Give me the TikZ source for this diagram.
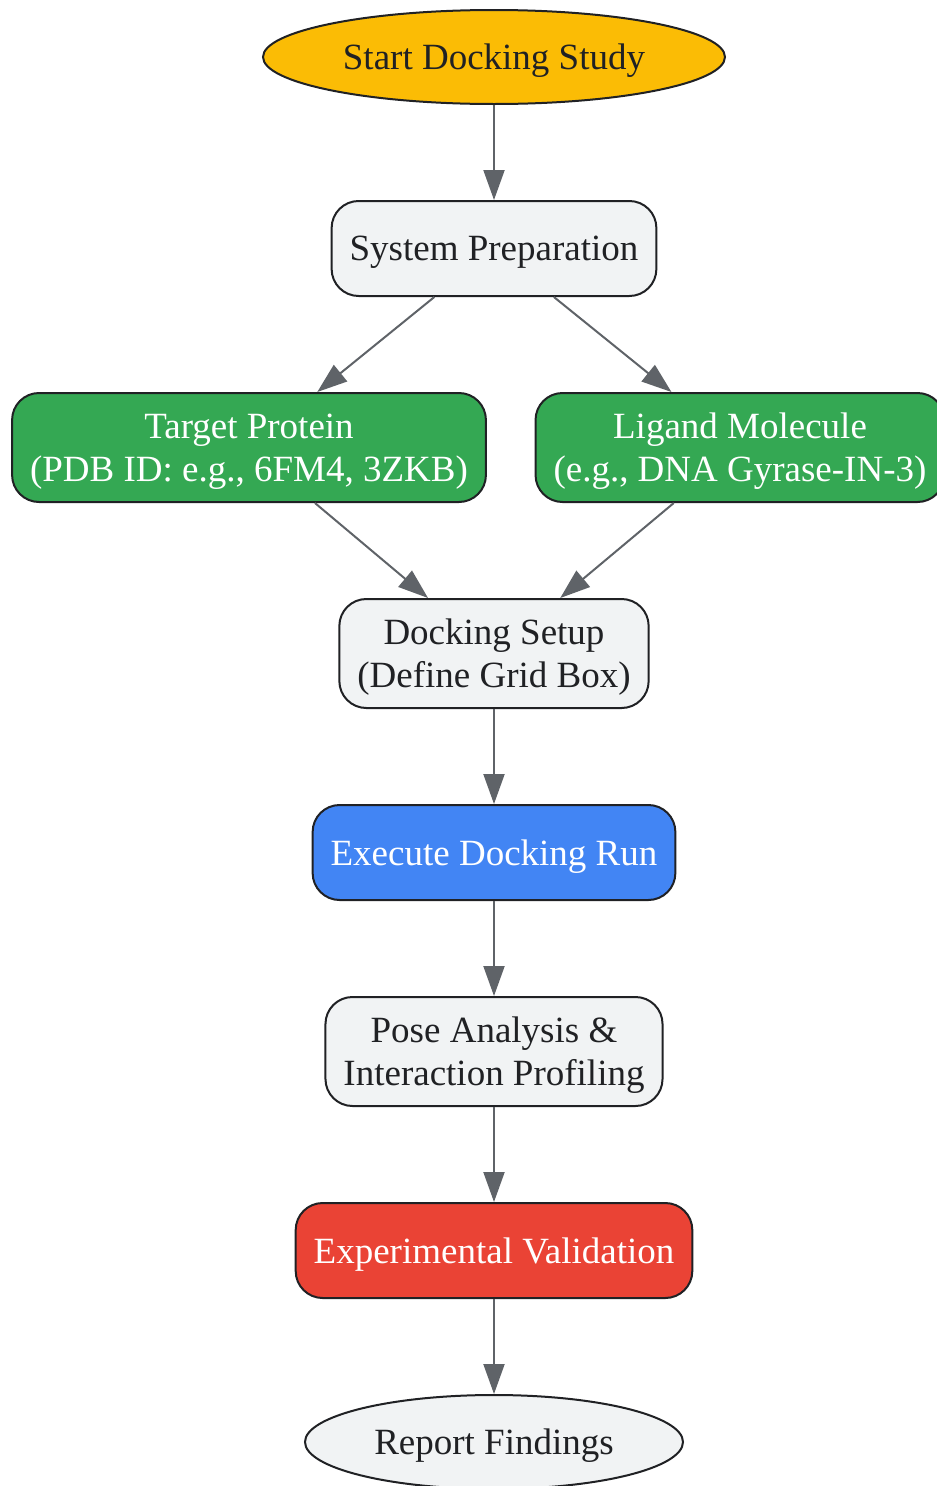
\documentclass[tikz,border=0pt]{standalone}
\usepackage{fontspec}
\setmainfont{Liberation Serif}
\usepackage{tikz}
\usetikzlibrary{arrows.meta, positioning, shapes.geometric}
\definecolor{gyellow}{HTML}{FBBC05}
\definecolor{ggreen}{HTML}{34A853}
\definecolor{gblue}{HTML}{4285F4}
\definecolor{gred}{HTML}{EA4335}
\definecolor{ggrey}{HTML}{F1F3F4}
\definecolor{gdark}{HTML}{202124}
\definecolor{gedge}{HTML}{5F6368}
\tikzset{
  dbox/.style={draw=gdark, line width=2pt, rounded corners=27pt, fill=ggrey, text=gdark, align=center, inner xsep=18pt, inner ysep=4pt, minimum height=95pt, text depth=0pt, font=\fontsize{37}{43}\selectfont},
  dtwo/.style={dbox, minimum height=109pt},
  dinput/.style={dtwo, fill=ggreen, text=white},
  drun/.style={dbox, fill=gblue, text=white},
  dcheck/.style={dbox, fill=gred, text=white},
  dterm/.style={ellipse, draw=gdark, line width=2pt, fill=ggrey, text=gdark, inner sep=0pt, minimum height=94pt, text depth=0pt, font=\fontsize{37}{43}\selectfont},
  dflow/.style={-{Triangle[length=30pt, width=21pt]}, line width=2pt, gedge},
}

\begin{document}
\begin{tikzpicture}[x=1pt, y=1pt, node distance=95pt]
    \useasboundingbox (0,0) rectangle (937,-1486);
    \node[dterm, fill=gyellow, minimum width=462pt] (start) at (494,-57) {Start Docking Study};
    \node[dbox, below=of start] (prep) {System Preparation};
    \node[dinput, below=of prep, xshift=-245pt] (target) {Target Protein\\(PDB ID: e.g., 6FM4, 3ZKB)};
    \node[dinput, below=of prep, xshift=246pt] (ligand) {Ligand Molecule\\(e.g., DNA Gyrase-IN-3)};
    \coordinate (join) at (target.south -| prep.south);
    \node[dtwo, below=of join] (setup) {Docking Setup\\(Define Grid Box)};
    \node[drun, below=of setup] (run) {Execute Docking Run};
    \node[dtwo, below=of run] (pose) {Pose Analysis \&\\Interaction Profiling};
    \node[dcheck, below=of pose] (check) {Experimental Validation};
    \node[dterm, below=of check, minimum width=378pt] (report) {Report Findings};
    \draw[dflow] (start) -- (prep);
    \draw[dflow] (prep) -- (target);
    \draw[dflow] (prep) -- (ligand);
    \draw[dflow] (target) -- (setup);
    \draw[dflow] (ligand) -- (setup);
    \draw[dflow] (setup) -- (run);
    \draw[dflow] (run) -- (pose);
    \draw[dflow] (pose) -- (check);
    \draw[dflow] (check) -- (report);
  \end{tikzpicture}
\end{document}
